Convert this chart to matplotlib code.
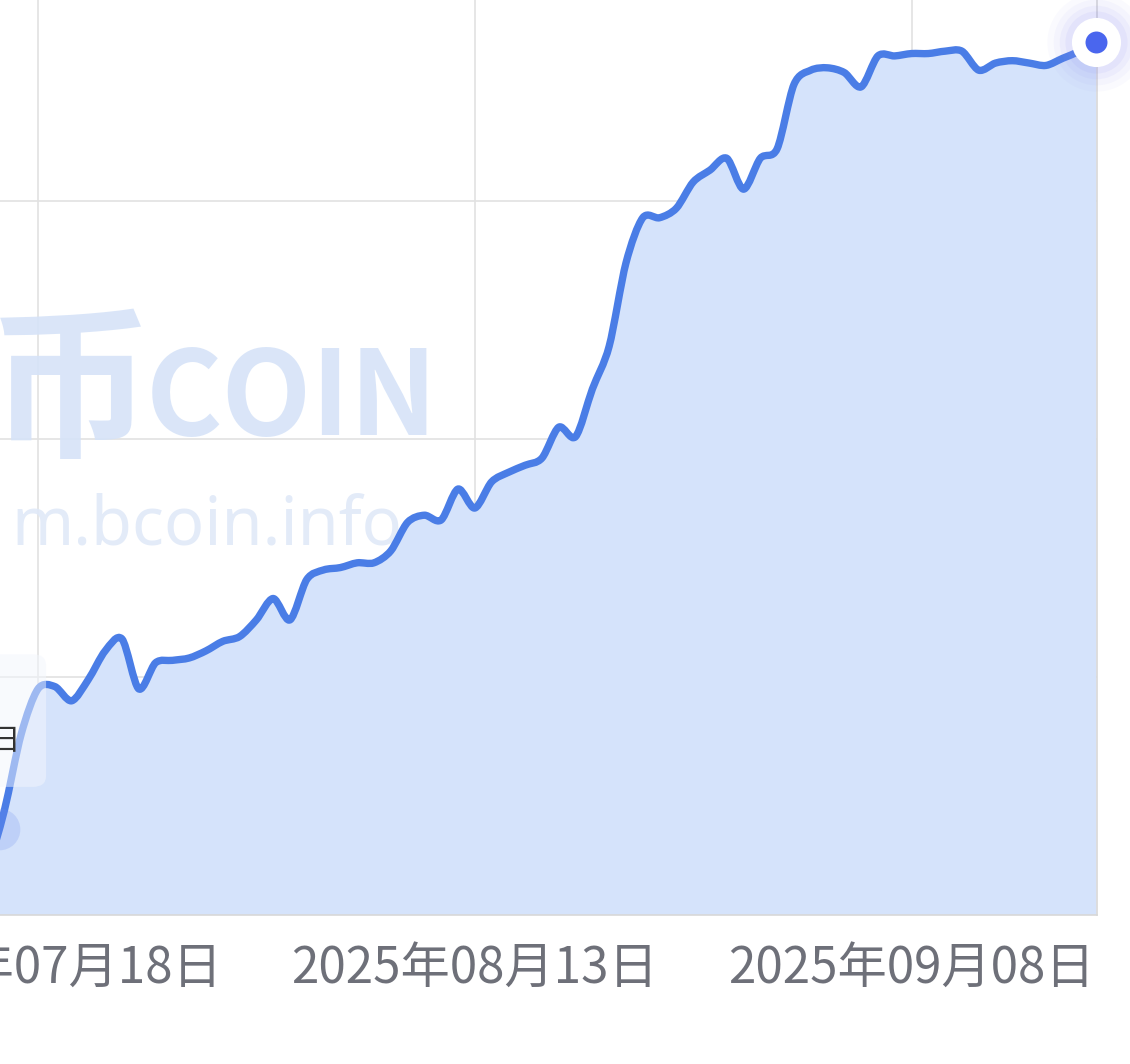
import numpy as np
import matplotlib.pyplot as plt
import matplotlib.dates as mdates
from matplotlib.path import Path
from matplotlib.patches import PathPatch, FancyBboxPatch

plt.rcParams['font.family'] = ['Noto Sans CJK SC', 'DejaVu Sans']

# daily values, 2025-07-15 .. 2025-09-19 (y axis is cropped off, units arbitrary)
dates = np.arange('2025-07-15', '2025-09-20', dtype='datetime64[D]')
values = [19, 44, 76, 95, 96, 90, 99, 111, 116, 95, 106, 107, 108, 111, 115, 117,
          124, 133, 124, 141, 145, 146, 148, 148, 153, 165, 168, 166, 179, 171,
          182, 186, 189, 192, 205, 201, 221, 239, 274, 293, 293, 297, 308, 313,
          318, 305, 318, 322, 349, 355, 356, 354, 348, 361, 361, 362, 362, 363,
          363, 355, 358, 359, 358, 357, 360, 363, 367]
tick_dates = ['2025-07-18', '2025-08-13', '2025-09-08']
tick_labels = ['2025年07月18日', '2025年08月13日', '2025年09月08日']

line_color = '#4a7de6'
fill_color = '#d5e3fb'
grid_color = '#e2e2e2'


def smooth_path(x, y, k=0.15):
    # catmull-rom -> cubic bezier, like the smooth line of the original chart
    verts = [(x[0], y[0])]
    codes = [Path.MOVETO]
    n = len(x)
    for i in range(n - 1):
        x0, y0 = x[max(i - 1, 0)], y[max(i - 1, 0)]
        x3, y3 = x[min(i + 2, n - 1)], y[min(i + 2, n - 1)]
        c1 = (x[i] + (x[i + 1] - x0) * k, y[i] + (y[i + 1] - y0) * k)
        c2 = (x[i + 1] - (x3 - x[i]) * k, y[i + 1] - (y3 - y[i]) * k)
        verts += [c1, c2, (x[i + 1], y[i + 1])]
        codes += [Path.CURVE4] * 3
    return verts, codes


x = mdates.date2num(dates.astype('datetime64[s]').astype(object))
y = np.array(values, dtype=float)

fig = plt.figure(figsize=(11.3, 10.64), dpi=100)
ax = fig.add_axes([0, 149 / 1064, 1097 / 1130, 915 / 1064])

day0 = mdates.date2num(np.datetime64('2025-07-18').astype(object))
ax.set_xlim(day0 - 38 / 16.8, x[-1] + 0.04)
ax.set_ylim(0, 384.5)

verts, codes = smooth_path(x, y)
ax.add_patch(PathPatch(Path(verts, codes), facecolor='none', edgecolor=line_color,
                       lw=5.3, capstyle='round', joinstyle='round', zorder=4))
fverts = verts + [(x[-1], 0), (x[0], 0), (x[0], y[0])]
fcodes = codes + [Path.LINETO, Path.LINETO, Path.CLOSEPOLY]
ax.add_patch(PathPatch(Path(fverts, fcodes), facecolor=fill_color, edgecolor='none', zorder=1))

# watermark
ax.text(-0.01, 0.515, '币', transform=ax.transAxes, fontsize=118, fontweight='bold',
        color='#d6e3f8', alpha=0.9, zorder=2, va='baseline')
ax.text(0.133, 0.525, 'COIN', transform=ax.transAxes, fontsize=84, fontweight='bold',
        color='#d6e3f8', alpha=0.9, zorder=2, va='baseline')
ax.text(0.01, 0.405, 'm.bcoin.info', transform=ax.transAxes, fontsize=48,
        color='#e0e9f8', alpha=0.9, zorder=2, va='baseline', family='Noto Sans')

# leftover tooltip at the left edge
ax.add_patch(FancyBboxPatch((-0.2, 0.14), 0.242, 0.145, transform=ax.transAxes,
                            boxstyle='round,pad=0,rounding_size=0.012',
                            facecolor='#f3f6fd', edgecolor='none', alpha=0.5,
                            zorder=5, clip_on=False))
ax.text(0.018, 0.19, '日', transform=ax.transAxes, fontsize=22, color='#333333',
        ha='right', va='center', zorder=6)
ax.scatter([x[0] + 0.7], [36], s=900, color='#6f8ff0', alpha=0.22, lw=0, zorder=5)

# end point with glow
for s, a in [(5000, 0.04), (3800, 0.05), (2800, 0.07), (2000, 0.09)]:
    ax.scatter([x[-1]], [y[-1]], s=s, color='#8c8cf5', alpha=a, lw=0, zorder=6, clip_on=False)
ax.scatter([x[-1]], [y[-1]], s=1250, color='white', lw=0, zorder=7, clip_on=False)
ax.scatter([x[-1]], [y[-1]], s=250, color='#4a66ee', lw=0, zorder=8, clip_on=False)

ax.set_xticks(mdates.date2num([np.datetime64(d).astype(object) for d in tick_dates]))
ax.set_xticklabels(tick_labels, fontsize=35.5, color='#6e7079')
ax.set_yticks([100, 200, 300])
ax.tick_params(axis='both', length=0, pad=20)
ax.tick_params(axis='y', labelleft=False)
ax.grid(True, color=grid_color, lw=1.2, zorder=0)
ax.set_axisbelow(True)
for side in ['top', 'left']:
    ax.spines[side].set_visible(False)
for side in ['bottom', 'right']:
    ax.spines[side].set_color('#d8d8d8')
    ax.spines[side].set_linewidth(1.2)

fig.savefig('out.png', dpi=100)
